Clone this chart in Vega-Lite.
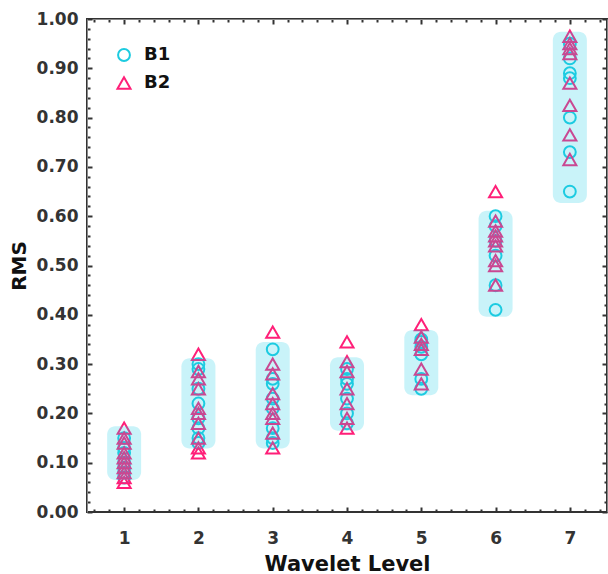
{
  "$schema": "https://vega.github.io/schema/vega-lite/v6.json",
  "width": 520,
  "height": 493,
  "autosize": {"type": "none"},
  "padding": {"left": 87, "top": 19, "right": 1, "bottom": 62},
  "background": "white",
  "config": {
    "font": "DejaVu Sans",
    "view": {"stroke": "#333333", "strokeWidth": 2}
  },
  "datasets": {
    "pts": [
      {"level": 1, "rms": 0.15, "series": "B1"}, {"level": 1, "rms": 0.13, "series": "B1"}, {"level": 1, "rms": 0.12, "series": "B1"}, {"level": 1, "rms": 0.10, "series": "B1"}, {"level": 1, "rms": 0.09, "series": "B1"}, {"level": 1, "rms": 0.08, "series": "B1"}, {"level": 1, "rms": 0.07, "series": "B1"},
      {"level": 2, "rms": 0.30, "series": "B1"}, {"level": 2, "rms": 0.29, "series": "B1"}, {"level": 2, "rms": 0.25, "series": "B1"}, {"level": 2, "rms": 0.22, "series": "B1"}, {"level": 2, "rms": 0.19, "series": "B1"}, {"level": 2, "rms": 0.17, "series": "B1"}, {"level": 2, "rms": 0.15, "series": "B1"}, {"level": 2, "rms": 0.14, "series": "B1"},
      {"level": 3, "rms": 0.33, "series": "B1"}, {"level": 3, "rms": 0.27, "series": "B1"}, {"level": 3, "rms": 0.26, "series": "B1"}, {"level": 3, "rms": 0.23, "series": "B1"}, {"level": 3, "rms": 0.21, "series": "B1"}, {"level": 3, "rms": 0.17, "series": "B1"}, {"level": 3, "rms": 0.15, "series": "B1"}, {"level": 3, "rms": 0.14, "series": "B1"},
      {"level": 4, "rms": 0.29, "series": "B1"}, {"level": 4, "rms": 0.27, "series": "B1"}, {"level": 4, "rms": 0.26, "series": "B1"}, {"level": 4, "rms": 0.23, "series": "B1"}, {"level": 4, "rms": 0.20, "series": "B1"}, {"level": 4, "rms": 0.18, "series": "B1"},
      {"level": 5, "rms": 0.35, "series": "B1"}, {"level": 5, "rms": 0.345, "series": "B1"}, {"level": 5, "rms": 0.335, "series": "B1"}, {"level": 5, "rms": 0.32, "series": "B1"}, {"level": 5, "rms": 0.27, "series": "B1"}, {"level": 5, "rms": 0.25, "series": "B1"},
      {"level": 6, "rms": 0.60, "series": "B1"}, {"level": 6, "rms": 0.58, "series": "B1"}, {"level": 6, "rms": 0.55, "series": "B1"}, {"level": 6, "rms": 0.52, "series": "B1"}, {"level": 6, "rms": 0.46, "series": "B1"}, {"level": 6, "rms": 0.41, "series": "B1"},
      {"level": 7, "rms": 0.95, "series": "B1"}, {"level": 7, "rms": 0.92, "series": "B1"}, {"level": 7, "rms": 0.89, "series": "B1"}, {"level": 7, "rms": 0.88, "series": "B1"}, {"level": 7, "rms": 0.80, "series": "B1"}, {"level": 7, "rms": 0.73, "series": "B1"}, {"level": 7, "rms": 0.65, "series": "B1"},
      {"level": 1, "rms": 0.17, "series": "B2"}, {"level": 1, "rms": 0.15, "series": "B2"}, {"level": 1, "rms": 0.14, "series": "B2"}, {"level": 1, "rms": 0.12, "series": "B2"}, {"level": 1, "rms": 0.11, "series": "B2"}, {"level": 1, "rms": 0.10, "series": "B2"}, {"level": 1, "rms": 0.09, "series": "B2"}, {"level": 1, "rms": 0.08, "series": "B2"}, {"level": 1, "rms": 0.07, "series": "B2"}, {"level": 1, "rms": 0.06, "series": "B2"},
      {"level": 2, "rms": 0.32, "series": "B2"}, {"level": 2, "rms": 0.285, "series": "B2"}, {"level": 2, "rms": 0.27, "series": "B2"}, {"level": 2, "rms": 0.25, "series": "B2"}, {"level": 2, "rms": 0.21, "series": "B2"}, {"level": 2, "rms": 0.20, "series": "B2"}, {"level": 2, "rms": 0.18, "series": "B2"}, {"level": 2, "rms": 0.15, "series": "B2"}, {"level": 2, "rms": 0.13, "series": "B2"}, {"level": 2, "rms": 0.12, "series": "B2"},
      {"level": 3, "rms": 0.365, "series": "B2"}, {"level": 3, "rms": 0.30, "series": "B2"}, {"level": 3, "rms": 0.28, "series": "B2"}, {"level": 3, "rms": 0.24, "series": "B2"}, {"level": 3, "rms": 0.22, "series": "B2"}, {"level": 3, "rms": 0.20, "series": "B2"}, {"level": 3, "rms": 0.19, "series": "B2"}, {"level": 3, "rms": 0.16, "series": "B2"}, {"level": 3, "rms": 0.13, "series": "B2"},
      {"level": 4, "rms": 0.345, "series": "B2"}, {"level": 4, "rms": 0.305, "series": "B2"}, {"level": 4, "rms": 0.285, "series": "B2"}, {"level": 4, "rms": 0.25, "series": "B2"}, {"level": 4, "rms": 0.22, "series": "B2"}, {"level": 4, "rms": 0.19, "series": "B2"}, {"level": 4, "rms": 0.17, "series": "B2"},
      {"level": 5, "rms": 0.38, "series": "B2"}, {"level": 5, "rms": 0.355, "series": "B2"}, {"level": 5, "rms": 0.34, "series": "B2"}, {"level": 5, "rms": 0.33, "series": "B2"}, {"level": 5, "rms": 0.29, "series": "B2"}, {"level": 5, "rms": 0.26, "series": "B2"},
      {"level": 6, "rms": 0.65, "series": "B2"}, {"level": 6, "rms": 0.59, "series": "B2"}, {"level": 6, "rms": 0.57, "series": "B2"}, {"level": 6, "rms": 0.56, "series": "B2"}, {"level": 6, "rms": 0.55, "series": "B2"}, {"level": 6, "rms": 0.54, "series": "B2"}, {"level": 6, "rms": 0.51, "series": "B2"}, {"level": 6, "rms": 0.50, "series": "B2"}, {"level": 6, "rms": 0.46, "series": "B2"},
      {"level": 7, "rms": 0.965, "series": "B2"}, {"level": 7, "rms": 0.95, "series": "B2"}, {"level": 7, "rms": 0.94, "series": "B2"}, {"level": 7, "rms": 0.93, "series": "B2"}, {"level": 7, "rms": 0.87, "series": "B2"}, {"level": 7, "rms": 0.825, "series": "B2"}, {"level": 7, "rms": 0.765, "series": "B2"}, {"level": 7, "rms": 0.715, "series": "B2"}
    ],
    "boxes": [
      {"level": 1, "lo": 0.065, "hi": 0.174},
      {"level": 2, "lo": 0.129, "hi": 0.312},
      {"level": 3, "lo": 0.129, "hi": 0.345},
      {"level": 4, "lo": 0.165, "hi": 0.314},
      {"level": 5, "lo": 0.237, "hi": 0.369},
      {"level": 6, "lo": 0.396, "hi": 0.611},
      {"level": 7, "lo": 0.627, "hi": 0.974}
    ]
  },
  "resolve": {"axis": {"x": "independent", "y": "independent"}},
  "layer": [
    {
      "data": {"name": "boxes"},
      "mark": {"type": "point", "opacity": 0},
      "encoding": {
        "x": {
          "field": "level", "type": "quantitative",
          "scale": {"domain": [0.5, 7.5], "nice": false, "zero": false},
          "axis": {
            "orient": "bottom", "domain": false, "gridOpacity": 0,
            "values": [0.6,0.8,1,1.2,1.4,1.6,1.8,2,2.2,2.4,2.6,2.8,3,3.2,3.4,3.6,3.8,4,4.2,4.4,4.6,4.8,5,5.2,5.4,5.6,5.8,6,6.2,6.4,6.6,6.8,7,7.2,7.4],
            "labelExpr": "abs(datum.value - round(datum.value)) < 0.001 ? format(datum.value, 'd') : ''",
            "tickSize": {"condition": {"test": "abs(datum.value - round(datum.value)) < 0.001", "value": -5}, "value": -3},
            "tickWidth": 2, "tickColor": "#333333",
            "labelFontSize": 17, "labelFontWeight": "bold", "labelColor": "#333333", "labelPadding": 23, "labelFlush": false, "labelOverlap": false,
            "title": "Wavelet Level", "titleFontSize": 21, "titleFontWeight": "bold", "titleColor": "#111111", "titlePadding": 5
          }
        },
        "y": {
          "field": "lo", "type": "quantitative",
          "scale": {"domain": [0, 1], "nice": false, "zero": false},
          "axis": {
            "orient": "left", "grid": false,
            "values": [0,0.02,0.04,0.06,0.08,0.1,0.12,0.14,0.16,0.18,0.2,0.22,0.24,0.26,0.28,0.3,0.32,0.34,0.36,0.38,0.4,0.42,0.44,0.46,0.48,0.5,0.52,0.54,0.56,0.58,0.6,0.62,0.64,0.66,0.68,0.7,0.72,0.74,0.76,0.78,0.8,0.82,0.84,0.86,0.88,0.9,0.92,0.94,0.96,0.98,1],
            "labelExpr": "abs(datum.value*10 - round(datum.value*10)) < 0.001 ? format(datum.value, '.2f') : ''",
            "tickSize": {"condition": {"test": "abs(datum.value*10 - round(datum.value*10)) < 0.001", "value": -5}, "value": -3},
            "tickWidth": 2, "tickColor": "#333333",
            "labelFontSize": 17, "labelFontWeight": "bold", "labelColor": "#333333", "labelPadding": 14, "labelFlush": false, "labelOverlap": false,
            "title": "RMS", "titleFontSize": 20, "titleFontWeight": "bold", "titleColor": "#111111", "titlePadding": 7
          }
        }
      }
    },
    {
      "data": {"name": "boxes"},
      "mark": {"type": "point", "opacity": 0},
      "encoding": {
        "x": {
          "field": "level", "type": "quantitative",
          "axis": {
            "orient": "top", "grid": false, "labels": false, "title": null,
            "values": [0.6,0.8,1,1.2,1.4,1.6,1.8,2,2.2,2.4,2.6,2.8,3,3.2,3.4,3.6,3.8,4,4.2,4.4,4.6,4.8,5,5.2,5.4,5.6,5.8,6,6.2,6.4,6.6,6.8,7,7.2,7.4],
            "tickSize": {"condition": {"test": "abs(datum.value - round(datum.value)) < 0.001", "value": -5}, "value": -3},
            "tickWidth": 2, "tickColor": "#333333"
          }
        },
        "y": {
          "field": "hi", "type": "quantitative",
          "axis": {
            "orient": "right", "grid": false, "labels": false, "title": null,
            "values": [0,0.02,0.04,0.06,0.08,0.1,0.12,0.14,0.16,0.18,0.2,0.22,0.24,0.26,0.28,0.3,0.32,0.34,0.36,0.38,0.4,0.42,0.44,0.46,0.48,0.5,0.52,0.54,0.56,0.58,0.6,0.62,0.64,0.66,0.68,0.7,0.72,0.74,0.76,0.78,0.8,0.82,0.84,0.86,0.88,0.9,0.92,0.94,0.96,0.98,1],
            "tickSize": {"condition": {"test": "abs(datum.value*10 - round(datum.value*10)) < 0.001", "value": -5}, "value": -3},
            "tickWidth": 2, "tickColor": "#333333"
          }
        }
      }
    },
    {
      "data": {"name": "pts"},
      "mark": {"type": "point", "filled": false, "strokeWidth": 2, "opacity": 1},
      "encoding": {
        "x": {"field": "level", "type": "quantitative", "axis": null},
        "y": {"field": "rms", "type": "quantitative", "axis": null},
        "shape": {
          "field": "series", "type": "nominal",
          "scale": {"domain": ["B1", "B2"], "range": ["circle", "triangle-up"]},
          "legend": {"orient": "none", "legendX": 28, "legendY": 27, "title": null, "padding": 0, "labelFontSize": 18, "labelFontWeight": "bold", "labelColor": "#111111", "labelOffset": 11, "rowPadding": 8, "symbolSize": 140, "symbolStrokeWidth": 2, "symbolOpacity": 1}
        },
        "color": {
          "field": "series", "type": "nominal",
          "scale": {"domain": ["B1", "B2"], "range": ["#1ccbe0", "#ff1f78"]},
          "legend": {"orient": "none", "legendX": 28, "legendY": 27, "title": null, "padding": 0, "labelFontSize": 18, "labelFontWeight": "bold", "labelColor": "#111111", "labelOffset": 11, "rowPadding": 8, "symbolSize": 140, "symbolStrokeWidth": 2, "symbolOpacity": 1}
        },
        "size": {
          "field": "series", "type": "nominal",
          "scale": {"domain": ["B1", "B2"], "range": [140, 170]},
          "legend": null
        }
      }
    },
    {
      "data": {"name": "boxes"},
      "mark": {"type": "rect", "xOffset": -17, "x2Offset": 17, "cornerRadius": 8, "fill": "#1ccde4", "fillOpacity": 0.24},
      "encoding": {
        "x": {"field": "level", "type": "quantitative", "axis": null},
        "x2": {"field": "level"},
        "y": {"field": "lo", "type": "quantitative", "axis": null},
        "y2": {"field": "hi"}
      }
    }
  ]
}
